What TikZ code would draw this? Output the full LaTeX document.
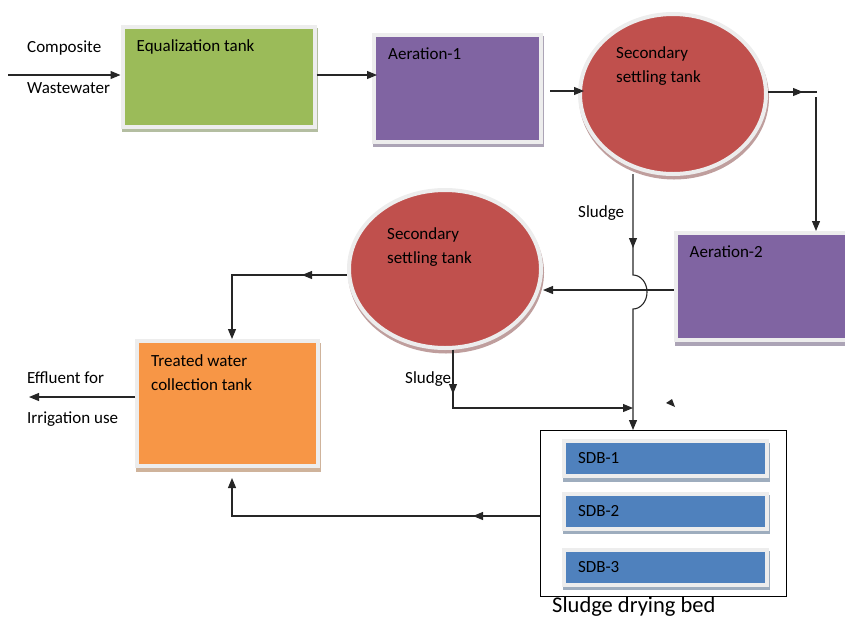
\documentclass[tikz,border=0pt]{standalone}
\usepackage{fontspec}
\setmainfont{Carlito}
\usepackage{xcolor}
\usetikzlibrary{arrows.meta, shapes.geometric, shadows, decorations.markings}

\definecolor{eqgreen}{HTML}{9BBB59}
\definecolor{aerpurple}{HTML}{8064A2}
\definecolor{sstred}{HTML}{C0504D}
\definecolor{treatorange}{HTML}{F79646}
\definecolor{sdbblue}{HTML}{4F81BD}

\begin{document}
\begin{tikzpicture}[
    x=1pt, y=-1pt,
    font=\fontsize{17}{24}\selectfont,
    line/.style={draw=black!85, line width=1.1pt},
    flow/.style={line, -{Triangle[length=10pt, width=8pt]}},
    midtip/.style={postaction={decorate, decoration={markings, mark=at position #1 with {\arrow{Triangle[length=10pt, width=8pt]}}}}},
    tank/.style={rectangle, fill=#1, draw=black!7, line width=4pt, drop shadow={shadow xshift=1pt, shadow yshift=-3.5pt, fill=#1!45!gray!65!white, draw=#1!45!gray!65!white, line width=4pt, opacity=1}},
    pond/.style={tank=#1, ellipse},
    bed/.style={tank=sdbblue, minimum width=203pt, minimum height=35pt, text width=175pt, inner xsep=14pt, align=left},
    tag/.style={anchor=north west, inner sep=0pt, align=left, xshift=16pt, yshift=-15pt},
    etag/.style={anchor=north west, inner sep=0pt, align=left},
    txt/.style={anchor=base west, inner sep=0pt}
]
\useasboundingbox (0,0) rectangle (845,619);

% Tanks
\node[tank=eqgreen, minimum width=192pt, minimum height=100pt, label={[tag]north west:Equalization tank}] (eq) at (218.5,76.5) {};
\node[tank=aerpurple, minimum width=167pt, minimum height=107pt, label={[tag]north west:Aeration-1}] (aer1) at (457.5,88) {};
\node[pond=sstred, minimum width=186pt, minimum height=160pt, label={[etag, xshift=-57pt, yshift=-34pt]north:Secondary\\settling tank}] (sst1) at (673,94) {};
\node[tank=aerpurple, minimum width=172.5pt, minimum height=107pt, label={[tag]north west:Aeration-2}] (aer2) at (761.75,286.5) {};
\node[pond=sstred, minimum width=192pt, minimum height=158pt, label={[etag, xshift=-58pt, yshift=-39pt]north:Secondary\\settling tank}] (sst2) at (445,269) {};
\node[tank=treatorange, minimum width=181pt, minimum height=125pt, label={[tag]north west:Treated water\\collection tank}] (treat) at (227.5,403.5) {};

% Sludge drying beds
\node[draw=black, line width=1pt, fill=white, minimum width=246pt, minimum height=165.5pt] (sdb) at (663.5,513.25) {};
\node[bed] (sdb1) at (665.5,458.5) {SDB-1};
\node[bed] (sdb2) at (665.5,511) {SDB-2};
\node[bed] (sdb3) at (665.5,567) {SDB-3};
\node[txt, font=\fontsize{22.5}{27}\selectfont] (sdbname) at (552,612) {Sludge drying bed};

% Free texts
\node[txt] (comp) at (27,52) {Composite};
\node[txt] (waste) at (27,93) {Wastewater};
\node[txt] (eff) at (27,383) {Effluent for};
\node[txt] (irr) at (27,423) {Irrigation use};
\node[txt] (sl1) at (578,217) {Sludge};
\node[txt] (sl2) at (405,383) {Sludge};

% Main line
\coordinate (feed) at (8,75);
\draw[flow] (feed) -- (feed -| eq.west);
\draw[flow] (eq.east |- feed) -- ([xshift=5pt]aer1.west |- feed);
\coordinate (a1out) at (550,91);
\draw[flow] (a1out) -- ([xshift=6pt]a1out -| sst1.west);
\coordinate (s1end) at (817,92);
\draw[line, midtip=35pt] (sst1.east |- s1end) -- (s1end);
\coordinate (drop) at (816,97);
\draw[flow] (drop) -- (drop |- aer2.north);
\draw[flow] ([yshift=-3.5pt]aer2.west) -- ([yshift=-3.5pt]aer2.west -| sst2.east);
\coordinate (bend) at (232,275);
\draw[flow, midtip=45pt] ([yshift=-6pt]sst2.west) -- (bend) -- (bend |- treat.north);
\coordinate (outlet) at (29,397);
\draw[flow] (treat.west |- outlet) -- (outlet);

% Sludge lines
\coordinate (s1sl) at (633,174);
\coordinate (hop) at (633,275);
\draw[flow, midtip=74pt] (s1sl) -- (hop) arc[start angle=-90, end angle=90, x radius=14, y radius=17] -- (hop |- sdb.north);
\coordinate (s2sl) at (453,350);
\coordinate (s2bend) at (453,408);
\draw[flow, midtip=44pt] (s2sl) -- (s2bend) -- (s2bend -| hop);
\fill[black!85] (666,403) -- (672,399) -- (675,407) -- cycle;
\coordinate (back) at (232,516);
\draw[flow, midtip=67pt] (sdb.west |- back) -- (back) -- ([yshift=-10pt]back |- treat.south);

\end{tikzpicture}
\end{document}
